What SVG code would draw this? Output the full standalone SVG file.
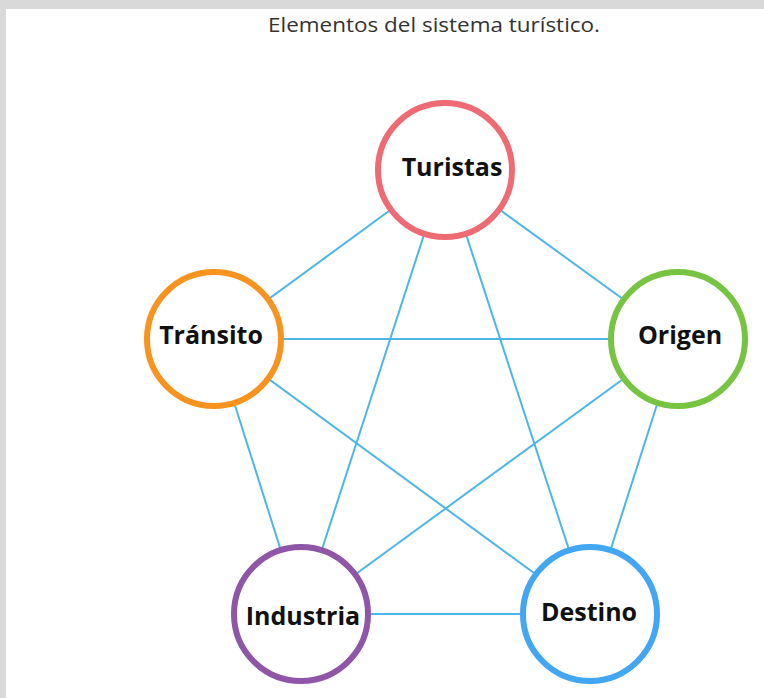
<svg xmlns="http://www.w3.org/2000/svg" width="764" height="698" viewBox="0 0 764 698">
<style>
.node{fill:#fff;stroke-width:6}
.lbl{font-family:"Open Sans","Liberation Sans",sans-serif;font-weight:bold;font-size:25px;fill:#111;text-anchor:middle}
.edge{stroke:#4DB6E8;stroke-width:2;fill:none}
.title{font-family:"Open Sans","Liberation Sans",sans-serif;font-size:20px;fill:#333;text-anchor:middle}
</style>
<rect x="0" y="0" width="764" height="698" fill="#fff"/>
<rect x="0" y="0" width="764" height="9" fill="#d9d9d9"/>
<rect x="0" y="0" width="6" height="698" fill="#d9d9d9"/>
<text class="title" x="434" y="32" textLength="332" lengthAdjust="spacingAndGlyphs">Elementos del sistema turístico.</text>
<g id="connectors">
<line class="edge" x1="445" y1="170" x2="214" y2="339"/>
<line class="edge" x1="445" y1="170" x2="678" y2="339"/>
<line class="edge" x1="445" y1="170" x2="301" y2="614"/>
<line class="edge" x1="445" y1="170" x2="590" y2="614"/>
<line class="edge" x1="214" y1="339" x2="678" y2="339"/>
<line class="edge" x1="214" y1="339" x2="301" y2="614"/>
<line class="edge" x1="214" y1="339" x2="590" y2="614"/>
<line class="edge" x1="678" y1="339" x2="301" y2="614"/>
<line class="edge" x1="678" y1="339" x2="590" y2="614"/>
<line class="edge" x1="301" y1="614" x2="590" y2="614"/>
</g>
<g id="turistas"><circle class="node" cx="445" cy="170" r="67" stroke="#EE6B73"/><text class="lbl" x="452" y="176">Turistas</text></g>
<g id="origen"><circle class="node" cx="678" cy="339" r="67" stroke="#77C443"/><text class="lbl" x="680" y="344">Origen</text></g>
<g id="transito"><circle class="node" cx="214" cy="339" r="67" stroke="#F7931E"/><text class="lbl" x="211" y="344">Tránsito</text></g>
<g id="industria"><circle class="node" cx="301" cy="614" r="67" stroke="#8F56A8"/><text class="lbl" x="303" y="625">Industria</text></g>
<g id="destino"><circle class="node" cx="590" cy="614" r="67" stroke="#42A6F2"/><text class="lbl" x="589" y="621">Destino</text></g>
</svg>
